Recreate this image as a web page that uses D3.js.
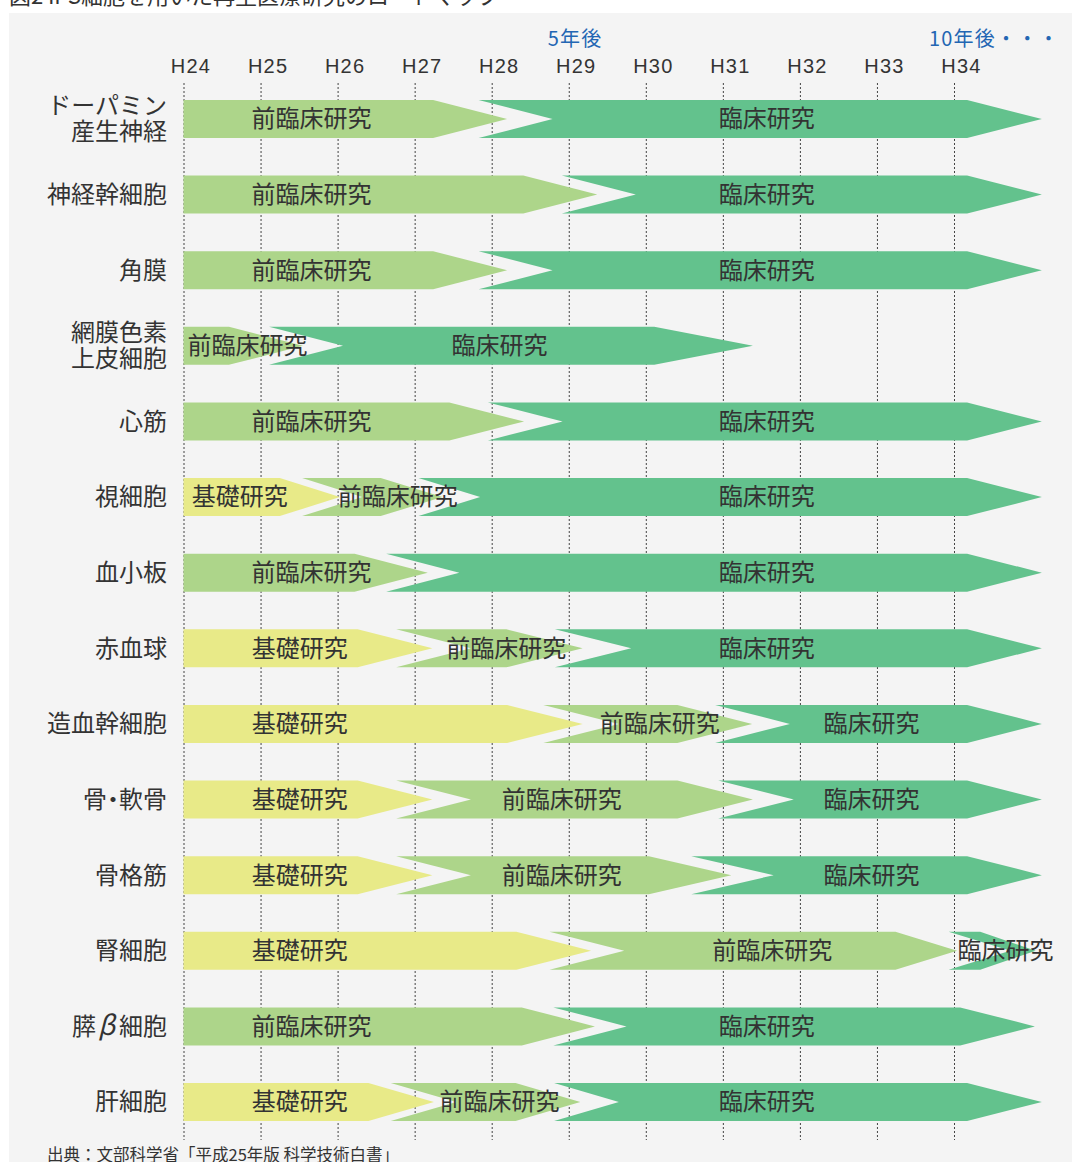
<!DOCTYPE html>
<html lang="ja">
<head>
<meta charset="utf-8">
<script src="https://cdn.jsdelivr.net/npm/d3@7/dist/d3.min.js"></script>
<style>
  body { margin: 0; background: #fff; }
  svg { display: block; font-family: "Noto Sans CJK JP", "Noto Sans", sans-serif; }
</style>
</head>
<body>
<div id="chart"></div>
<script>
// -------------------- Data --------------------

// fiscal years (Heisei) shown on top
const fiscalYears = [24, 25, 26, 27, 28, 29, 30, 31, 32, 33, 34];

// blue notes above the year row : [year, text]
const milestones = [[29, "5年後"], [34, "10年後・・・"]];

// cell types, one per row (\n = line break)
const cellTypes = [
    "ドーパミン\n産生神経", "神経幹細胞", "角膜", "網膜色素\n上皮細胞", "心筋", "視細胞", "血小板",
    "赤血球", "造血幹細胞", "骨・軟骨", "骨格筋", "腎細胞", "膵β細胞", "肝細胞"
];

const stageNames = ["基礎研究", "前臨床研究", "臨床研究"];

// each phase : [stage, start, end of body, tip, label centre]  (all in fiscal years)
const roadmap = [
    [[1, 24, 27.24, 28.20, 25.66], [2, 27.83, 34.17, 35.14, 31.57]],
    [[1, 24, 28.41, 29.37, 25.66], [2, 28.91, 34.17, 35.14, 31.57]],
    [[1, 24, 27.24, 28.20, 25.66], [2, 27.83, 34.17, 35.14, 31.57]],
    [[1, 24, 24.59, 25.55, 24.83], [2, 25.11, 30.11, 31.39, 28.10]],
    [[1, 24, 27.45, 28.42, 25.66], [2, 27.95, 34.17, 35.14, 31.57]],
    [[0, 24, 25.25, 26.03, 24.73], [1, 25.54, 26.56, 27.36, 26.78], [2, 27.05, 34.17, 35.14, 31.57]],
    [[1, 24, 26.22, 27.17, 25.66], [2, 26.63, 34.17, 35.14, 31.57]],
    [[0, 24, 26.26, 27.23, 25.51], [1, 26.76, 28.19, 29.18, 28.19], [2, 28.82, 34.17, 35.14, 31.57]],
    [[0, 24, 28.20, 29.18, 25.51], [1, 28.67, 30.41, 31.38, 30.18], [2, 30.90, 34.17, 35.14, 32.93]],
    [[0, 24, 26.26, 27.23, 25.51], [1, 26.76, 30.41, 31.39, 28.91], [2, 30.94, 34.17, 35.14, 32.93]],
    [[0, 24, 26.26, 27.23, 25.51], [1, 26.76, 30.04, 31.11, 28.91], [2, 30.59, 34.17, 35.14, 32.93]],
    [[0, 24, 28.32, 29.29, 25.51], [1, 28.75, 33.24, 34.04, 31.64], [2, 33.93, 34.34, 35.06, 34.67]],
    [[1, 24, 28.39, 29.34, 25.66], [2, 28.80, 34.08, 35.05, 31.57]],
    [[0, 24, 26.40, 27.25, 25.51], [1, 26.69, 28.31, 29.15, 28.10], [2, 28.81, 34.17, 35.14, 31.57]]
];

const titleText = "図2 iPS細胞を用いた再生医療研究のロードマップ";
const sourceText = "出典：文部科学省「平成25年版 科学技術白書」";

// -------------------- Setup --------------------

const WIDTH = 1072;
const HEIGHT = 1162;
const BAR_H = 38;
const stageColors = ["#e8ea88", "#add58a", "#63c28d"];
const TEXT = "#333";

const svg = d3.select("#chart")
    .append("svg")
    .attr("width", WIDTH)
    .attr("height", HEIGHT);

const x = d3.scaleLinear()
    .domain([24, 35])
    .range([183.5, 183.5 + 77.05 * 11]);

const y = d3.scalePoint()
    .domain(d3.range(cellTypes.length))
    .range([119, 1102]);

// title (cut by the top of the picture) and grey panel
svg.append("text")
    .attr("x", 9)
    .attr("y", 4)
    .attr("font-size", 22)
    .attr("fill", TEXT)
    .text(titleText);

svg.append("rect")
    .attr("x", 9)
    .attr("y", 13)
    .attr("width", WIDTH - 9)
    .attr("height", HEIGHT - 13)
    .attr("fill", "#f4f4f4");

// ***** GRID *****
const grid = svg.append("g")
    .attr("transform", "translate(0,83)")
    .call(d3.axisBottom(x).tickValues(fiscalYears).tickSize(1057).tickFormat(""));
grid.select(".domain").remove();
grid.selectAll("line")
    .attr("stroke", "#444")
    .attr("stroke-width", 1)
    .attr("stroke-dasharray", "2,2");

// ***** YEARS *****
const yearAxis = svg.append("g")
    .attr("transform", "translate(0,73)")
    .call(d3.axisTop(x).tickValues(fiscalYears).tickSize(0).tickPadding(0).tickFormat(d => "H" + d));
yearAxis.select(".domain").remove();
yearAxis.selectAll("text")
    .attr("font-family", null)
    .attr("font-size", 20)
    .attr("letter-spacing", 1.2)
    .attr("fill", TEXT)
    .attr("dy", 0)
    .attr("dx", 7);

svg.append("g")
    .selectAll("text")
    .data(milestones)
    .join("text")
    .attr("x", d => x(d[0]) - (d[0] === 29 ? 21 : 25))
    .attr("y", 46)
    .attr("font-size", 20)
    .attr("letter-spacing", 1.2)
    .attr("fill", "#2366b3")
    .text(d => d[1]);

// ***** ROW LABELS *****
// splits a line so that "・" is drawn narrow and "β" wide and slanted, as in the original
const labelPieces = line => line.split(/([・β])/).filter(s => s !== "");

const rowLabels = svg.append("g")
    .attr("font-size", 24)
    .attr("fill", TEXT)
    .attr("text-anchor", "end");

rowLabels.selectAll("text")
    .data(cellTypes)
    .join("text")
    .attr("x", 167)
    .attr("y", (d, i) => y(i))
    .each(function (d) {
        const lines = d.split("\n");
        const txt = d3.select(this);
        lines.forEach((line, j) => {
            labelPieces(line).forEach((piece, k) => {
                const t = txt.append("tspan").text(piece);
                if (k === 0) {
                    t.attr("x", 167)
                        .attr("dy", j === 0 ? (0.35 - (lines.length - 1) * 0.54) + "em" : "1.08em");
                }
                if (piece === "・") t.attr("dx", -6);
                if (piece === "β") t.attr("dx", 2).attr("font-style", "italic").attr("font-size", 27);
                const prev = labelPieces(line)[k - 1];
                if (prev === "・") t.attr("dx", -6);
                if (prev === "β") t.attr("dx", 4);
            });
        });
    });

// ***** ARROWS *****
const arrowPath = (x0, x1, x2, notch, cy) => {
    const top = cy - BAR_H / 2, bot = cy + BAR_H / 2;
    let p = `M${x0},${top}L${x1},${top}L${x2},${cy}L${x1},${bot}L${x0},${bot}`;
    if (notch !== null) p += `L${notch},${cy}`;
    return p + "Z";
};

const shapes = [];
roadmap.forEach((phases, row) => {
    phases.forEach((ph, k) => {
        const [stage, from, body, tip, label] = ph;
        let notch = null;
        if (k > 0) {
            const prev = phases[k - 1];
            notch = x(from) + (x(prev[3]) - x(prev[2]));
        }
        shapes.push({ row, stage, d: arrowPath(x(from), x(body), x(tip), notch, y(row)), label });
    });
});

svg.append("g")
    .selectAll("path")
    .data(shapes)
    .join("path")
    .attr("d", d => d.d)
    .attr("fill", d => stageColors[d.stage]);

svg.append("g")
    .attr("font-size", 24)
    .attr("fill", TEXT)
    .attr("text-anchor", "middle")
    .selectAll("text")
    .data(shapes)
    .join("text")
    .attr("x", d => x(d.label))
    .attr("y", d => y(d.row))
    .attr("dy", "0.35em")
    .text(d => stageNames[d.stage]);

// ***** SOURCE *****
svg.append("text")
    .attr("x", 47)
    .attr("y", 1161)
    .attr("font-size", 16.5)
    .attr("fill", TEXT)
    .text(sourceText);
</script>
</body>
</html>
